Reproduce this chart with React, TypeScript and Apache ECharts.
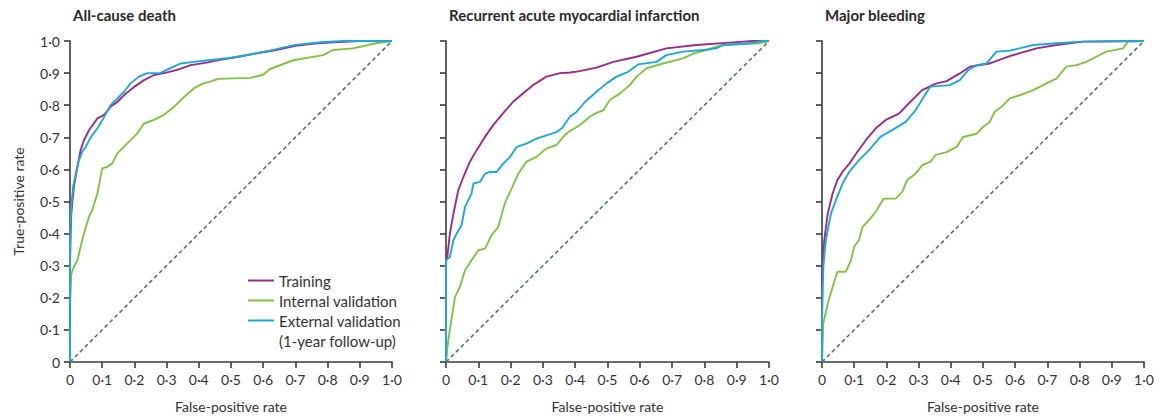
import React, { useEffect, useRef } from "react";
import * as echarts from "echarts";

// ---------- Data (false-positive rate, true-positive rate) ----------
const panelTitles = ["All-cause death", "Recurrent acute myocardial infarction", "Major bleeding"];
const seriesNames = ["Training", "Internal validation", "External validation"];
const legendNote = "(1-year follow-up)";

const deathTraining: number[][] = [
  [0, 0], [0, 0.3], [0.002, 0.4], [0.004, 0.463], [0.012, 0.546], [0.023, 0.608], [0.033, 0.66],
  [0.043, 0.69], [0.059, 0.722], [0.085, 0.759], [0.106, 0.77], [0.126, 0.795], [0.147, 0.81],
  [0.173, 0.836], [0.199, 0.857], [0.23, 0.878], [0.261, 0.894], [0.292, 0.9], [0.333, 0.91],
  [0.375, 0.925], [0.42, 0.932], [0.47, 0.942], [0.52, 0.95], [0.58, 0.962], [0.64, 0.972],
  [0.7, 0.985], [0.76, 0.992], [0.82, 0.996], [0.9, 1], [1, 1],
];
const deathInternal: number[][] = [
  [0, 0], [0, 0.17], [0.004, 0.275], [0.012, 0.296], [0.023, 0.317], [0.038, 0.38], [0.049, 0.42],
  [0.059, 0.452], [0.069, 0.473], [0.085, 0.525], [0.1, 0.603], [0.116, 0.608], [0.131, 0.618],
  [0.147, 0.65], [0.168, 0.671], [0.188, 0.691], [0.209, 0.712], [0.23, 0.743], [0.261, 0.754],
  [0.292, 0.77], [0.323, 0.795], [0.344, 0.816], [0.385, 0.853], [0.414, 0.868], [0.44, 0.875],
  [0.46, 0.882], [0.56, 0.885], [0.6, 0.895], [0.62, 0.912], [0.693, 0.94], [0.786, 0.956],
  [0.817, 0.972], [0.879, 0.977], [0.95, 0.993], [1, 1],
];
const deathExternal: number[][] = [
  [0, 0], [0, 0.38], [0.004, 0.485], [0.01, 0.548], [0.018, 0.587], [0.028, 0.629], [0.038, 0.655],
  [0.049, 0.67], [0.059, 0.69], [0.069, 0.707], [0.085, 0.728], [0.1, 0.752], [0.115, 0.78],
  [0.126, 0.8], [0.147, 0.821], [0.168, 0.842], [0.188, 0.868], [0.214, 0.889], [0.24, 0.9],
  [0.28, 0.9], [0.3, 0.91], [0.344, 0.93], [0.385, 0.935], [0.43, 0.94], [0.5, 0.948],
  [0.56, 0.958], [0.62, 0.97], [0.7, 0.988], [0.78, 0.996], [0.85, 1], [1, 1],
];

const miTraining: number[][] = [
  [0, 0], [0, 0.316], [0.004, 0.327], [0.012, 0.4], [0.023, 0.462], [0.038, 0.535], [0.054, 0.577],
  [0.074, 0.624], [0.095, 0.66], [0.121, 0.702], [0.146, 0.738], [0.177, 0.775], [0.208, 0.811],
  [0.239, 0.837], [0.27, 0.863], [0.311, 0.889], [0.353, 0.9], [0.384, 0.902], [0.414, 0.906],
  [0.466, 0.917], [0.518, 0.935], [0.59, 0.951], [0.682, 0.977], [0.775, 0.9875], [0.878, 0.995],
  [0.95, 1], [1, 1],
];
const miInternal: number[][] = [
  [0, 0], [0.007, 0.068], [0.018, 0.14], [0.028, 0.203], [0.043, 0.234], [0.059, 0.286],
  [0.079, 0.317], [0.1, 0.348], [0.121, 0.353], [0.141, 0.395], [0.162, 0.421], [0.182, 0.494],
  [0.203, 0.54], [0.224, 0.587], [0.249, 0.624], [0.28, 0.639], [0.311, 0.665], [0.342, 0.676],
  [0.368, 0.707], [0.384, 0.72], [0.414, 0.7375], [0.445, 0.764], [0.466, 0.776], [0.487, 0.784],
  [0.507, 0.816], [0.538, 0.836], [0.569, 0.8625], [0.59, 0.889], [0.621, 0.915], [0.672, 0.93],
  [0.734, 0.946], [0.765, 0.961], [0.806, 0.972], [0.837, 0.982], [0.858, 0.9875], [0.97, 0.993],
  [1, 1],
];
const miExternal: number[][] = [
  [0, 0], [0, 0.317], [0.012, 0.327], [0.023, 0.38], [0.033, 0.4], [0.048, 0.426], [0.059, 0.483],
  [0.079, 0.525], [0.085, 0.556], [0.105, 0.561], [0.121, 0.587], [0.136, 0.592], [0.157, 0.592],
  [0.177, 0.618], [0.198, 0.639], [0.219, 0.67], [0.249, 0.68], [0.28, 0.696], [0.311, 0.706],
  [0.342, 0.716], [0.36, 0.73], [0.384, 0.765], [0.404, 0.779], [0.43, 0.81], [0.466, 0.842],
  [0.497, 0.868], [0.528, 0.889], [0.564, 0.904], [0.595, 0.927], [0.652, 0.935], [0.682, 0.956],
  [0.734, 0.967], [0.796, 0.972], [0.837, 0.977], [0.858, 0.9875], [0.94, 0.993], [0.98, 1], [1, 1],
];

const bleedTraining: number[][] = [
  [0, 0], [0, 0.275], [0.007, 0.379], [0.018, 0.463], [0.033, 0.525], [0.048, 0.567], [0.064, 0.593],
  [0.085, 0.618], [0.11, 0.655], [0.136, 0.691], [0.167, 0.728], [0.198, 0.754], [0.239, 0.774],
  [0.27, 0.806], [0.311, 0.847], [0.353, 0.867], [0.387, 0.875], [0.428, 0.899], [0.459, 0.92],
  [0.521, 0.93], [0.583, 0.953], [0.666, 0.977], [0.728, 0.9875], [0.811, 0.998], [1, 1],
];
const bleedInternal: number[][] = [
  [0, 0], [0.004, 0.12], [0.018, 0.182], [0.033, 0.234], [0.048, 0.281], [0.074, 0.281],
  [0.09, 0.317], [0.1, 0.359], [0.115, 0.38], [0.126, 0.421], [0.146, 0.442], [0.167, 0.468],
  [0.182, 0.494], [0.192, 0.509], [0.229, 0.509], [0.249, 0.53], [0.265, 0.567], [0.291, 0.587],
  [0.311, 0.613], [0.337, 0.624], [0.353, 0.645], [0.387, 0.654], [0.418, 0.67], [0.438, 0.701],
  [0.48, 0.711], [0.5, 0.732], [0.521, 0.748], [0.536, 0.779], [0.563, 0.8], [0.583, 0.821],
  [0.614, 0.831], [0.656, 0.847], [0.697, 0.868], [0.728, 0.883], [0.759, 0.92], [0.79, 0.925],
  [0.821, 0.935], [0.852, 0.951], [0.883, 0.967], [0.935, 0.977], [0.95, 0.998], [1, 1],
];
const bleedExternal: number[][] = [
  [0, 0], [0, 0.12], [0.004, 0.296], [0.012, 0.38], [0.028, 0.463], [0.043, 0.504], [0.064, 0.556],
  [0.085, 0.593], [0.115, 0.629], [0.146, 0.66], [0.182, 0.702], [0.219, 0.723], [0.26, 0.748],
  [0.291, 0.785], [0.322, 0.836], [0.337, 0.858], [0.397, 0.8625], [0.428, 0.878], [0.454, 0.909],
  [0.48, 0.925], [0.511, 0.93], [0.542, 0.967], [0.583, 0.97], [0.656, 0.9875], [0.728, 0.993],
  [0.81, 0.998], [1, 1],
];

const referenceLine: number[][] = [[0, 0], [1, 1]];

const panels = [
  { training: deathTraining, internal: deathInternal, external: deathExternal },
  { training: miTraining, internal: miInternal, external: miExternal },
  { training: bleedTraining, internal: bleedInternal, external: bleedExternal },
];

// ---------- Styling ----------
const COLORS = { training: "#9a2b8a", internal: "#80c242", external: "#1ea8da", diag: "#4f7483" };
const FONT = "Lato, 'Open Sans', sans-serif";
const AXIS_COLOR = "#3b3b3b";
const TEXT_COLOR = "#333333";
const gridLefts = [70, 446, 822];
const gridWidths = [322, 323, 322];

function fmt(v: number): string {
  if (Math.abs(v) < 1e-9) return "0";
  return v.toFixed(1).replace(".", "\u00B7");
}

export default function App() {
  const ref = useRef<HTMLDivElement>(null);

  useEffect(() => {
    if (!ref.current) return;
    const chart = echarts.init(ref.current, undefined, { renderer: "svg" });

    const grids = gridLefts.map((left, i) => ({ left, top: 41, width: gridWidths[i], height: 321 }));

    const xAxes = grids.map((_, i) => ({
      type: "value",
      gridIndex: i,
      min: 0,
      max: 1,
      interval: 0.1,
      name: "False-positive rate",
      nameLocation: "middle",
      nameGap: 37,
      nameTextStyle: { fontFamily: FONT, fontSize: 14, color: TEXT_COLOR },
      axisLine: { show: true, lineStyle: { color: AXIS_COLOR, width: 1.6 } },
      axisTick: { show: true, length: 6, lineStyle: { color: AXIS_COLOR, width: 1.6 } },
      axisLabel: {
        margin: 10,
        fontFamily: FONT,
        fontSize: 14,
        color: TEXT_COLOR,
        formatter: (v: number) => fmt(v),
        showMaxLabel: true,
        showMinLabel: true,
      },
      splitLine: { show: false },
    }));

    const yAxes = grids.map((_, i) => ({
      type: "value",
      gridIndex: i,
      min: 0,
      max: 1,
      interval: 0.1,
      name: i === 0 ? "True-positive rate" : "",
      nameLocation: "middle",
      nameGap: 45,
      nameTextStyle: { fontFamily: FONT, fontSize: 14, color: TEXT_COLOR },
      axisLine: { show: true, lineStyle: { color: AXIS_COLOR, width: 1.6 } },
      axisTick: { show: true, length: 6, lineStyle: { color: AXIS_COLOR, width: 1.6 } },
      axisLabel: {
        show: i === 0,
        margin: 10,
        fontFamily: FONT,
        fontSize: 14,
        color: TEXT_COLOR,
        formatter: (v: number) => fmt(v),
      },
      splitLine: { show: false },
    }));

    const series: any[] = [];
    panels.forEach((p, i) => {
      series.push({
        type: "line",
        name: "Reference",
        xAxisIndex: i,
        yAxisIndex: i,
        data: referenceLine,
        showSymbol: false,
        symbol: "none",
        silent: true,
        lineStyle: { color: COLORS.diag, width: 1.6, type: [4, 3] },
        z: 1,
      });
      series.push({
        type: "line",
        name: seriesNames[1],
        xAxisIndex: i,
        yAxisIndex: i,
        data: p.internal,
        symbol: "none",
        lineStyle: { color: COLORS.internal, width: 1.9 },
        itemStyle: { color: COLORS.internal },
        z: 2,
      });
      series.push({
        type: "line",
        name: seriesNames[0],
        xAxisIndex: i,
        yAxisIndex: i,
        data: p.training,
        symbol: "none",
        lineStyle: { color: COLORS.training, width: 1.9 },
        itemStyle: { color: COLORS.training },
        z: 3,
      });
      series.push({
        type: "line",
        name: seriesNames[2],
        xAxisIndex: i,
        yAxisIndex: i,
        data: p.external,
        symbol: "none",
        lineStyle: { color: COLORS.external, width: 1.9 },
        itemStyle: { color: COLORS.external },
        z: 4,
      });
    });

    chart.setOption({
      animation: false,
      backgroundColor: "#ffffff",
      title: panelTitles.map((t, i) => ({
        text: t,
        left: gridLefts[i] - 2,
        top: 2,
        textStyle: { fontFamily: FONT, fontSize: 15, fontWeight: "bold", color: "#2a2a2a" },
      })),
      legend: {
        data: seriesNames,
        orient: "vertical",
        left: 243,
        top: 268,
        itemWidth: 26,
        itemHeight: 2,
        itemGap: 5,
        icon: "rect",
        selectedMode: false,
        textStyle: { fontFamily: FONT, fontSize: 15, color: TEXT_COLOR },
      },
      graphic: [
        {
          type: "text",
          left: 279,
          top: 333,
          style: { text: legendNote, font: `15px ${FONT}`, fill: TEXT_COLOR },
        },
      ],
      grid: grids,
      xAxis: xAxes,
      yAxis: yAxes,
      series,
    });

    return () => chart.dispose();
  }, []);

  return (
    <div
      ref={ref}
      style={{ position: "fixed", left: 0, top: 0, width: 1161, height: 418, background: "#fff" }}
    />
  );
}
